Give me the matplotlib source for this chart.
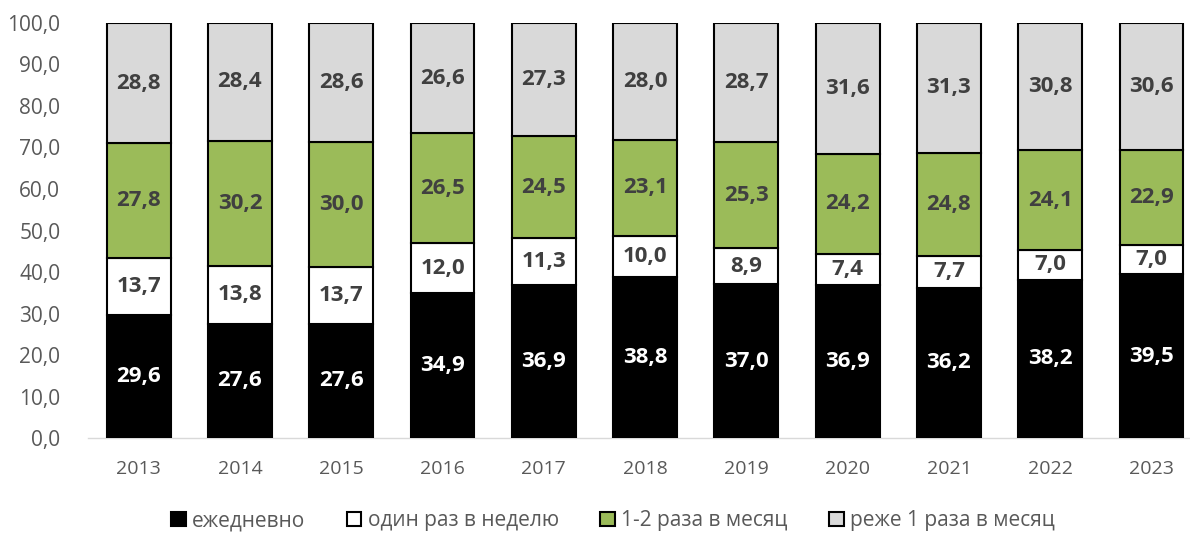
import numpy as np
import matplotlib.pyplot as plt

plt.rcParams['font.family'] = ['Open Sans', 'DejaVu Sans']

years = ['2013', '2014', '2015', '2016', '2017', '2018', '2019', '2020', '2021', '2022', '2023']
daily = [29.6, 27.6, 27.6, 34.9, 36.9, 38.8, 37.0, 36.9, 36.2, 38.2, 39.5]
weekly = [13.7, 13.8, 13.7, 12.0, 11.3, 10.0, 8.9, 7.4, 7.7, 7.0, 7.0]
monthly = [27.8, 30.2, 30.0, 26.5, 24.5, 23.1, 25.3, 24.2, 24.8, 24.1, 22.9]
rarely = [28.8, 28.4, 28.6, 26.6, 27.3, 28.0, 28.7, 31.6, 31.3, 30.8, 30.6]

names = ['ежедневно', 'один раз в неделю', '1-2 раза в месяц', 'реже 1 раза в месяц']
colors = ['#000000', '#ffffff', '#9bbb59', '#d9d9d9']
txt_colors = ['#ffffff', '#404040', '#404040', '#404040']

fig = plt.figure(figsize=(11.9, 5.33), dpi=100)
ax = fig.add_axes([0.074, 0.178, 0.926, 0.779])

x = np.arange(len(years))
bottom = np.zeros(len(years))
for vals, name, c, tc in zip([daily, weekly, monthly, rarely], names, colors, txt_colors):
    vals = np.array(vals)
    ax.bar(x, vals, width=0.63, bottom=bottom, color=c, edgecolor='black',
           linewidth=1.5, label=name, zorder=3)
    for xi, b, v in zip(x, bottom, vals):
        ax.text(xi, b + v / 2, f'{v:.1f}'.replace('.', ','), ha='center', va='center',
                fontsize=16, fontweight='bold', color=tc, zorder=4)
    bottom += vals

ax.set_ylim(0, 100)
ax.set_xlim(-0.5, 10.38)
ax.set_yticks(np.arange(0, 101, 10))
ax.set_yticklabels([f'{v:.1f}'.replace('.', ',') for v in np.arange(0, 101, 10)])
ax.set_xticks(x)
ax.set_xticklabels(years)
ax.tick_params(axis='both', length=0, colors='#595959')
ax.tick_params(axis='x', pad=16, labelsize=14)
ax.tick_params(axis='y', pad=20, labelsize=15)
for s in ['top', 'right', 'left']:
    ax.spines[s].set_visible(False)
ax.spines['bottom'].set_color('#d9d9d9')
ax.spines['bottom'].set_linewidth(1)

leg = fig.legend(loc='lower center', bbox_to_anchor=(0.515, -0.032), ncol=4, frameon=False,
                 fontsize=15, handlelength=0.7, handleheight=0.7, handletextpad=0.3,
                 columnspacing=2.0)
for t in leg.get_texts():
    t.set_color('#595959')

fig.savefig('out.png', dpi=100)
